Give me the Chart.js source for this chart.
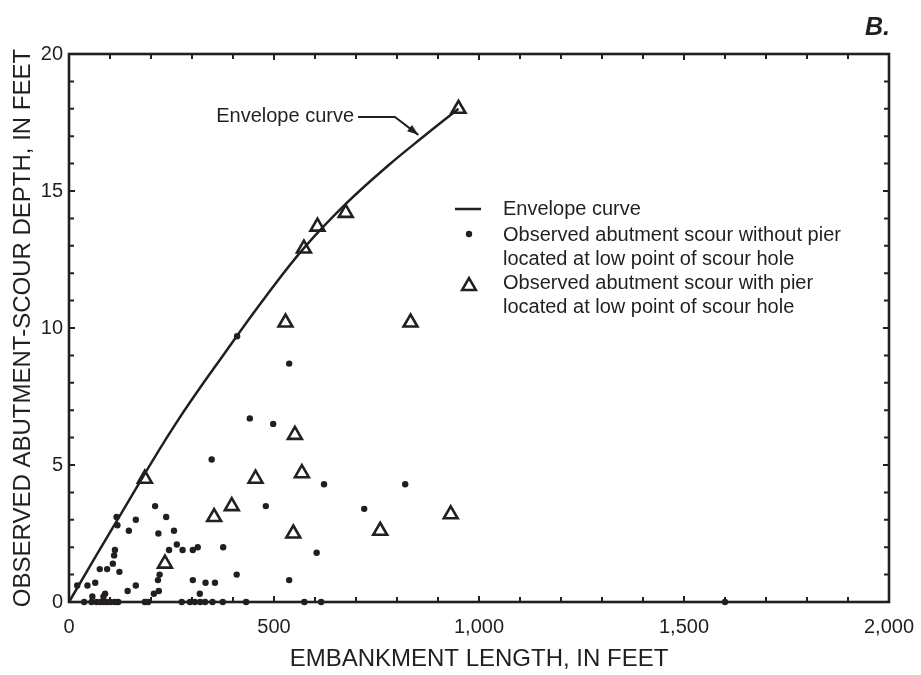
<!DOCTYPE html>
<html>
<head>
<meta charset="utf-8">
<title>Abutment scour vs embankment length</title>
<script src="https://cdn.jsdelivr.net/npm/chart.js@4.4.1/dist/chart.umd.min.js"></script>
<style>
    html, body { margin: 0; padding: 0; background: #fff; }
    #wrap { width: 921px; height: 675px; }
</style>
</head>
<body>
<div id="wrap"><canvas id="scour-chart" width="921" height="675"></canvas></div>
<script>
// --- Data (feet) ---
const envelopeLength = [0, 130, 260, 390, 480, 575, 680, 780, 870, 950];
const envelopeDepth = [0, 3.3, 6.5, 9.3, 11.15, 12.95, 14.6, 15.95, 17.05, 18.0];

const noPierLength = [
    410, 537, 441, 498, 348, 622, 820, 480, 720, 210,
    237, 163, 116, 118, 146, 218, 256, 263, 244, 277,
    302, 314, 376, 604, 112, 110, 107, 75, 93, 123,
    221, 409, 217, 302, 537, 333, 356, 163, 20, 45,
    64, 143, 219, 207, 319, 88, 84, 57,
    37, 55, 67, 77, 85, 93, 102, 112, 120, 185,
    193, 275, 295, 307, 320, 332, 350, 375, 432, 574,
    615, 1600
];
const noPierDepth = [
    9.7, 8.7, 6.7, 6.5, 5.2, 4.3, 4.3, 3.5, 3.4, 3.5,
    3.1, 3.0, 3.1, 2.8, 2.6, 2.5, 2.6, 2.1, 1.9, 1.9,
    1.9, 2.0, 2.0, 1.8, 1.9, 1.7, 1.4, 1.2, 1.2, 1.1,
    1.0, 1.0, 0.8, 0.8, 0.8, 0.7, 0.7, 0.6, 0.6, 0.6,
    0.7, 0.4, 0.4, 0.3, 0.3, 0.3, 0.2, 0.2,
    0, 0, 0, 0, 0, 0, 0, 0, 0, 0,
    0, 0, 0, 0, 0, 0, 0, 0, 0, 0,
    0, 0
];

const withPierLength = [950, 675, 606, 573, 528, 833, 551, 568, 455, 185, 397, 354, 547, 759, 931, 234];
const withPierDepth = [18.0, 14.2, 13.7, 12.9, 10.2, 10.2, 6.1, 4.7, 4.5, 4.5, 3.5, 3.1, 2.5, 2.6, 3.2, 1.4];

const xTicks = [0, 500, 1000, 1500, 2000];
const yTicks = [0, 5, 10, 15, 20];

const legendLabels = [
    ['Envelope curve'],
    ['Observed abutment scour without pier', 'located at low point of scour hole'],
    ['Observed abutment scour with pier', 'located at low point of scour hole']
];

// callout for the curve: text anchor, then the leader line ending in an arrow
const calloutText = 'Envelope curve';
const calloutPath = [[705, 17.7], [795, 17.7], [852, 17.05]];

const INK = '#231f20';
const FONT = "'Liberation Sans', Arial, Helvetica, sans-serif";

const toPoints = (xs, ys) => xs.map((x, i) => ({ x, y: ys[i] }));

// frame + inward ticks on all four sides
const framePlugin = {
    id: 'frame',
    beforeDatasetsDraw(chart) {
        const { ctx, chartArea: a, scales: { x, y } } = chart;
        ctx.save();
        ctx.strokeStyle = INK;
        ctx.lineWidth = 2;
        ctx.beginPath();
        for (let v = 0; v <= 2000; v += 100) {
            const px = x.getPixelForValue(v);
            const len = v % 500 === 0 ? 6 : 5;
            ctx.moveTo(px, a.bottom); ctx.lineTo(px, a.bottom - len);
            ctx.moveTo(px, a.top); ctx.lineTo(px, a.top + len);
        }
        for (let v = 0; v <= 20; v += 1) {
            const py = y.getPixelForValue(v);
            const len = v % 5 === 0 ? 6 : 5;
            ctx.moveTo(a.left, py); ctx.lineTo(a.left + len, py);
            ctx.moveTo(a.right, py); ctx.lineTo(a.right - len, py);
        }
        ctx.stroke();
        ctx.lineWidth = 2.6;
        ctx.strokeRect(a.left, a.top, a.right - a.left, a.bottom - a.top);
        ctx.restore();
    }
};

const notesPlugin = {
    id: 'notes',
    afterDraw(chart) {
        const { ctx, chartArea: a, scales: { x, y } } = chart;
        ctx.save();
        ctx.fillStyle = INK;
        ctx.strokeStyle = INK;

        // panel letter
        ctx.font = 'italic bold 25px ' + FONT;
        ctx.textAlign = 'right';
        ctx.textBaseline = 'alphabetic';
        ctx.fillText('B.', a.right + 1, 35);

        // curve callout
        const pts = calloutPath.map(([vx, vy]) => [x.getPixelForValue(vx), y.getPixelForValue(vy)]);
        ctx.font = '20px ' + FONT;
        ctx.textBaseline = 'middle';
        ctx.fillText(calloutText, pts[0][0] - 4, pts[0][1] - 1);
        ctx.lineWidth = 2;
        ctx.beginPath();
        ctx.moveTo(pts[0][0], pts[0][1]);
        for (let i = 1; i < pts.length; i++) ctx.lineTo(pts[i][0], pts[i][1]);
        ctx.stroke();
        const [tx, ty] = pts[pts.length - 1];
        const [fx, fy] = pts[pts.length - 2];
        const ang = Math.atan2(ty - fy, tx - fx);
        ctx.beginPath();
        ctx.moveTo(tx, ty);
        ctx.lineTo(tx - 11 * Math.cos(ang) + 4 * Math.sin(ang), ty - 11 * Math.sin(ang) - 4 * Math.cos(ang));
        ctx.lineTo(tx - 11 * Math.cos(ang) - 4 * Math.sin(ang), ty - 11 * Math.sin(ang) + 4 * Math.cos(ang));
        ctx.closePath();
        ctx.fill();

        // legend
        const symX = a.left + 400;
        const textX = a.left + 434;
        const rows = [a.top + 155, a.top + 181, a.top + 229];
        ctx.textAlign = 'left';
        ctx.lineWidth = 2.5;
        ctx.beginPath();
        ctx.moveTo(symX - 14, rows[0]); ctx.lineTo(symX + 12, rows[0]);
        ctx.stroke();
        ctx.beginPath();
        ctx.arc(symX, rows[1] - 1, 3.2, 0, Math.PI * 2);
        ctx.fill();
        ctx.fillStyle = 'rgba(0,0,0,0)';
        Chart.helpers.drawPoint(ctx, { pointStyle: 'triangle', radius: 8, borderWidth: 2.6 }, symX, rows[2] + 3);
        ctx.fillStyle = INK;
        legendLabels.forEach((lines, i) => {
            lines.forEach((t, j) => ctx.fillText(t, textX, rows[i] + j * 24));
        });
        ctx.restore();
    }
};

const ctx = document.getElementById('scour-chart').getContext('2d');
new Chart(ctx, {
    type: 'scatter',
    data: {
        datasets: [{
            label: 'Envelope curve',
            data: toPoints(envelopeLength, envelopeDepth),
            showLine: true,
            borderColor: INK,
            borderWidth: 2.5,
            pointRadius: 0,
            tension: 0.4,
            clip: false
        }, {
            label: 'Observed abutment scour without pier',
            data: toPoints(noPierLength, noPierDepth),
            pointStyle: 'circle',
            pointRadius: 3.2,
            backgroundColor: INK,
            borderColor: INK,
            borderWidth: 0,
            clip: false
        }, {
            label: 'Observed abutment scour with pier',
            data: toPoints(withPierLength, withPierDepth),
            pointStyle: 'triangle',
            pointRadius: 8,
            backgroundColor: 'rgba(0,0,0,0)',
            borderColor: INK,
            borderWidth: 2.6,
            clip: false
        }]
    },
    options: {
        responsive: false,
        animation: false,
        events: [],
        layout: { padding: { top: 54, right: 32, left: 0, bottom: 0 } },
        plugins: { legend: { display: false }, tooltip: { enabled: false } },
        scales: {
            x: {
                type: 'linear',
                min: 0,
                max: 2000,
                // fixed band under the plot; the last label may hang into the right margin
                afterFit: (s) => { s.height = 73; s.paddingLeft = 0; s.paddingRight = 0; },
                afterBuildTicks: (s) => { s.ticks = xTicks.map(v => ({ value: v })); },
                grid: { display: false, drawTicks: false },
                border: { display: false },
                ticks: {
                    padding: 13,
                    color: INK,
                    font: { family: FONT, size: 20 },
                    callback: (v) => v.toLocaleString('en-US')
                },
                title: {
                    display: true,
                    text: 'EMBANKMENT LENGTH, IN FEET',
                    color: INK,
                    font: { family: FONT, size: 24 },
                    padding: { top: 0, bottom: 1 }
                }
            },
            y: {
                type: 'linear',
                min: 0,
                max: 20,
                afterFit: (s) => { s.width = 69; s.paddingTop = 0; s.paddingBottom = 0; },
                afterBuildTicks: (s) => { s.ticks = yTicks.map(v => ({ value: v })); },
                grid: { display: false, drawTicks: false },
                border: { display: false },
                ticks: {
                    padding: 6,
                    color: INK,
                    font: { family: FONT, size: 20 }
                },
                title: {
                    display: true,
                    text: 'OBSERVED ABUTMENT-SCOUR DEPTH, IN FEET',
                    color: INK,
                    font: { family: FONT, size: 24 },
                    padding: { top: 9, bottom: 0 }
                }
            }
        }
    },
    plugins: [framePlugin, notesPlugin]
});
</script>
</body>
</html>
